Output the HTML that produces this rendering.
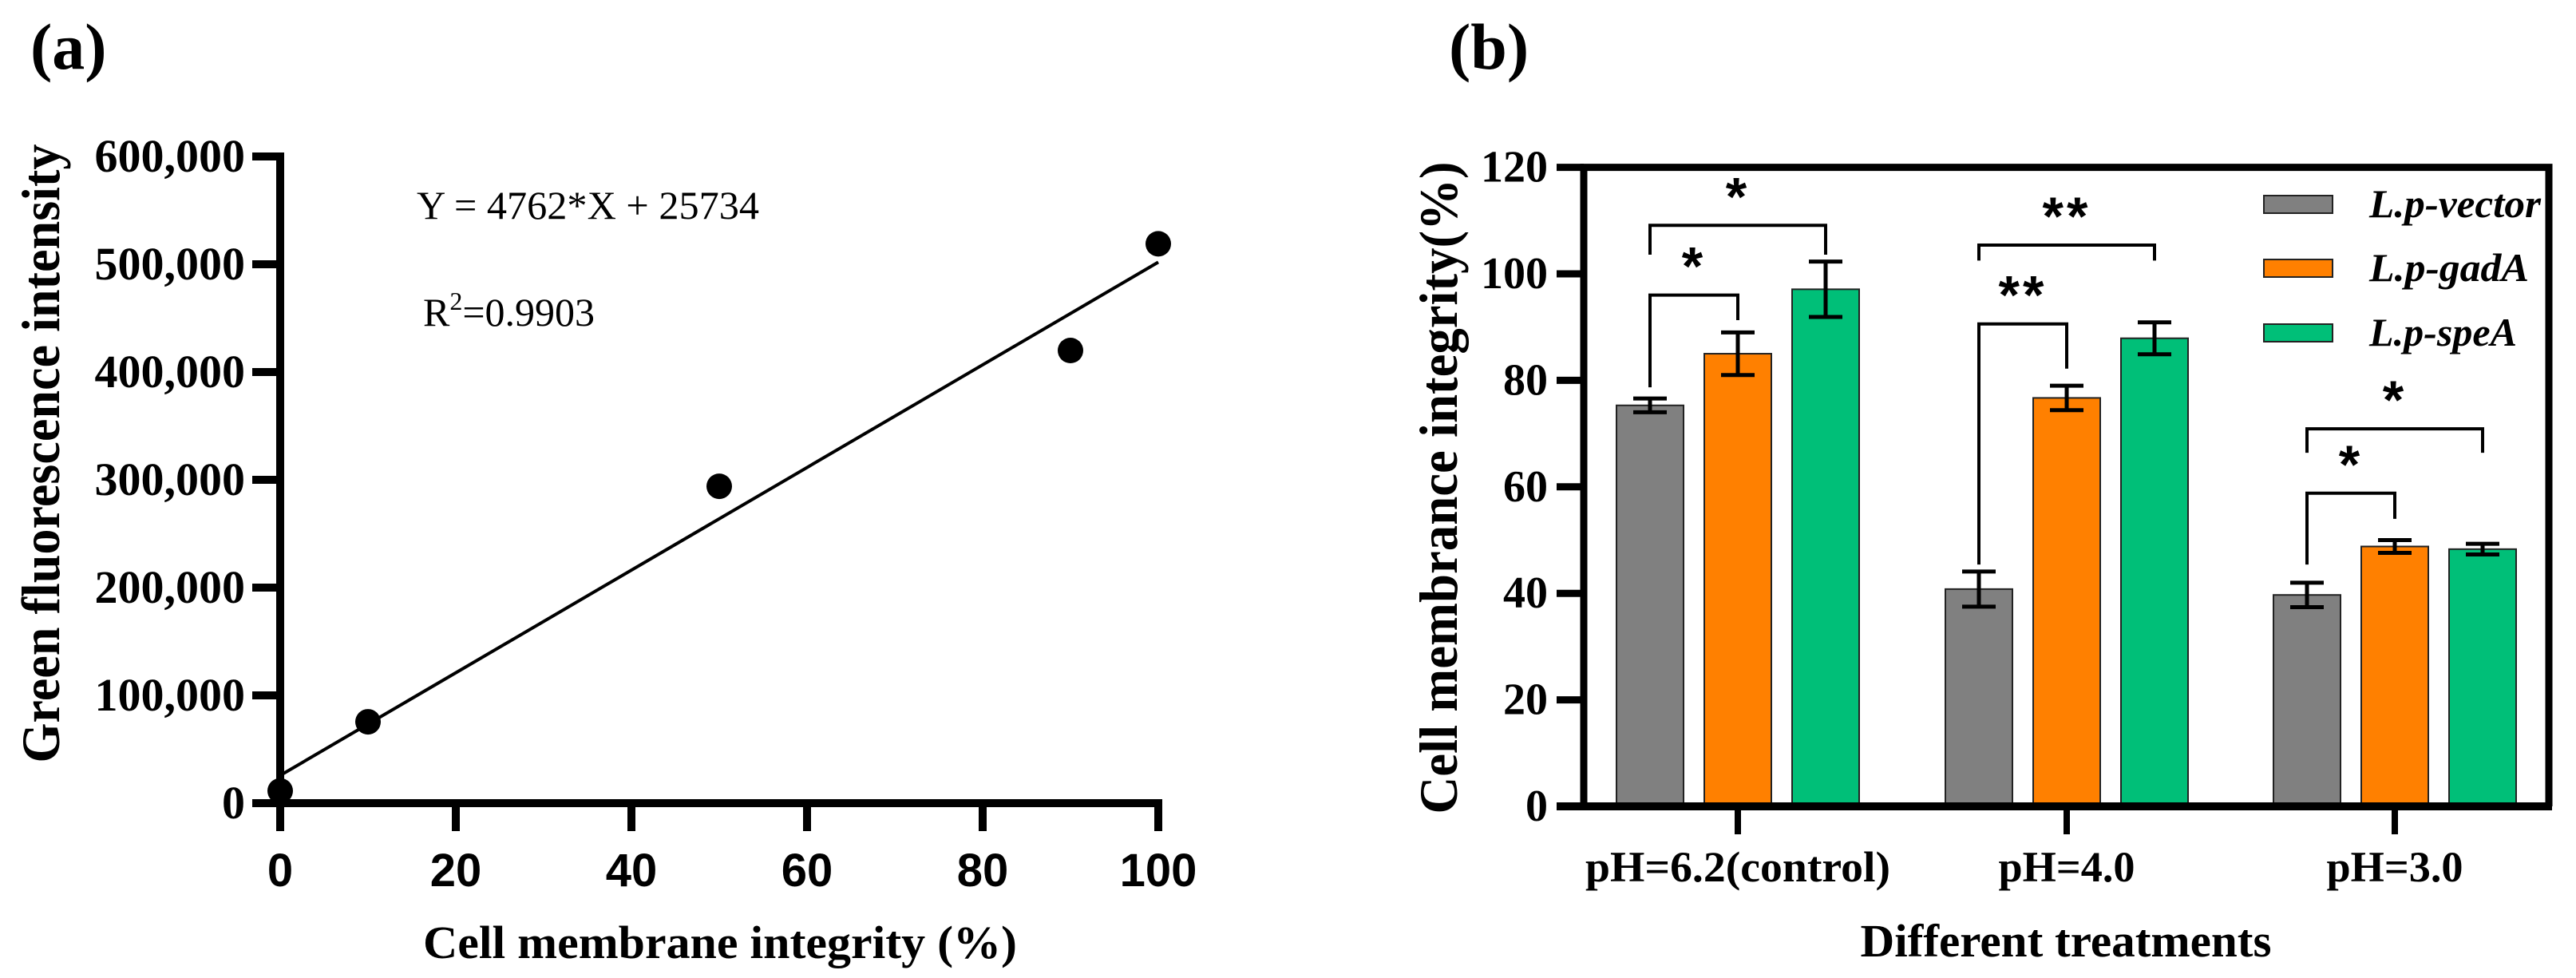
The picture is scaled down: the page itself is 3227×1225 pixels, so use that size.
<!DOCTYPE html>
<html><head><meta charset="utf-8">
<style>
html,body{margin:0;padding:0;background:#fff;}
svg{display:block;}
.serif{font-family:"Liberation Serif",serif;}
.sans{font-family:"Liberation Sans",sans-serif;}
</style></head>
<body>
<svg id="fig" width="3227" height="1225" viewBox="0 0 3227 1225" xmlns="http://www.w3.org/2000/svg">
  <rect x="0" y="0" width="3227" height="1225" fill="#fff"/>
  <text class="serif" x="38" y="86" font-size="82" font-weight="bold">(a)</text>
  <text class="serif" x="1815" y="86" font-size="82" font-weight="bold">(b)</text>
  <g id="chartA"></g>
  <g id="chartB"></g>
</svg>
<script>
// ---------- Chart A data ----------
const aX = [0, 10, 50, 90, 100];
const aY = [11400, 75500, 294000, 420000, 519000];
const aXTicks = [0, 20, 40, 60, 80, 100];
const aYTicks = [0, 100000, 200000, 300000, 400000, 500000, 600000];
const aYTickLabels = ["0", "100,000", "200,000", "300,000", "400,000", "500,000", "600,000"];
const fitSlope = [4762];
const fitIntercept = [25734];

// ---------- Chart B data ----------
const bCategories = ["pH=6.2(control)", "pH=4.0", "pH=3.0"];
const bSeriesNames = ["L.p-vector", "L.p-gadA", "L.p-speA"];
const bVector = [75.3, 40.8, 39.7];
const bGadA = [85.0, 76.7, 48.8];
const bSpeA = [97.1, 87.9, 48.3];
const bVectorErr = [1.3, 3.3, 2.3];
const bGadAErr = [4.0, 2.3, 1.2];
const bSpeAErr = [5.2, 3.0, 1.0];
const bYTicks = [0, 20, 40, 60, 80, 100, 120];
// significance brackets (values in y-axis units)
const bSigCat = [0, 0, 1, 1, 2, 2];
const bSigTo = [1, 2, 1, 2, 1, 2];
const bSigLabel = ["*", "*", "**", "**", "*", "*"];
const bSigTop = [96.0, 109.1, 90.6, 105.4, 58.8, 70.9];
const bSigLegA = [78.7, 103.6, 45.4, 102.5, 45.4, 66.4];
const bSigLegB = [91.3, 103.6, 82.2, 102.5, 54.0, 66.4];

const NS = "http://www.w3.org/2000/svg";
function mk(parent, tag, attrs, text) {
  const e = document.createElementNS(NS, tag);
  for (const k in attrs) e.setAttribute(k, attrs[k]);
  if (text !== undefined) e.textContent = text;
  parent.appendChild(e);
  return e;
}

// ================= CHART A =================
(function () {
  const g = document.getElementById('chartA');
  const x0 = 351, xPer = 11.0;
  const y0 = 1006, yPer = 0.00135;
  const xs = v => x0 + v * xPer;
  const ys = v => y0 - v * yPer;
  let e;
  e = mk(g, 'line', {x1: x0, y1: ys(600000) - 5, x2: x0, y2: 1041, stroke: '#000', 'stroke-width': 10});
  
  
  e = mk(g, 'line', {x1: 316, y1: y0, x2: xs(100) + 5, y2: y0, stroke: '#000', 'stroke-width': 10});
  
  
  aYTicks.forEach((v, i) => {
    const t = mk(g, 'line', {x1: 316, y1: ys(v), x2: x0, y2: ys(v), stroke: '#000', 'stroke-width': 10});
    
    
    const l = mk(g, 'text', {x: 307, y: ys(v) + 19, 'text-anchor': 'end', 'font-size': 58, 'font-weight': 'bold', class: 'serif'}, aYTickLabels[i]);
    
    
  });
  aXTicks.forEach(v => {
    const t = mk(g, 'line', {x1: xs(v), y1: y0, x2: xs(v), y2: 1041, stroke: '#000', 'stroke-width': 10});
    
    
    const l = mk(g, 'text', {x: xs(v), y: 1110, 'text-anchor': 'middle', 'font-size': 58, 'font-weight': 'bold', class: 'sans'}, String(v));
    
    
  });
  e = mk(g, 'text', {x: 0, y: 0, transform: 'translate(74,568) rotate(-90)', 'text-anchor': 'middle', 'font-size': 68, 'font-weight': 'bold', class: 'serif', textLength: 775, lengthAdjust: 'spacingAndGlyphs'}, 'Green fluorescence intensity');
  
  
  e = mk(g, 'text', {x: 902, y: 1200, 'text-anchor': 'middle', 'font-size': 58, 'font-weight': 'bold', class: 'serif', textLength: 744, lengthAdjust: 'spacingAndGlyphs'}, 'Cell membrane integrity (%)');
  
  
  e = mk(g, 'line', {x1: xs(0), y1: ys(fitIntercept[0]), x2: xs(100), y2: ys(fitSlope[0] * 100 + fitIntercept[0]), stroke: '#000', 'stroke-width': 4});
  
  
  aX.forEach((v, i) => {
    const c = mk(g, 'circle', {cx: xs(v), cy: ys(aY[i]), r: 16, fill: '#000'});
    
    
  });
  e = mk(g, 'text', {x: 522, y: 274, 'font-size': 50, class: 'serif', textLength: 429, lengthAdjust: 'spacingAndGlyphs'}, 'Y = 4762*X + 25734');
  
  
  e = mk(g, 'text', {x: 530, y: 408, 'font-size': 50, class: 'serif'});
  
  
  mk(e, 'tspan', {}, 'R');
  mk(e, 'tspan', {dy: -20, 'font-size': 32}, '2');
  mk(e, 'tspan', {dy: 20}, '=0.9903');
})();

// ================= CHART B =================
(function () {
  const g = document.getElementById('chartB');
  const y0 = 1010, yPer = 6.67;
  const ys = v => y0 - v * yPer;
  const xL = 1984, xR = 3193, yTop = ys(120);
  const groupCenters = [2177, 2589, 3000];
  const step = 110, bw = 84;
  const colors = ['#808080', '#FF8000', '#00BF78'];
  const vals = [bVector, bGadA, bSpeA];
  const errs = [bVectorErr, bGadAErr, bSpeAErr];
  const barX = (c, s) => groupCenters[c] + (s - 1) * step;
  let e;
  vals.forEach((arr, s) => {
    arr.forEach((v, c) => {
      const r = mk(g, 'rect', {x: barX(c, s) - bw / 2, y: ys(v), width: bw, height: y0 - ys(v), fill: colors[s], stroke: '#222', 'stroke-width': 2});
      
      
    });
  });
  vals.forEach((arr, s) => {
    arr.forEach((v, c) => {
      const cx = barX(c, s), hi = ys(v + errs[s][c]), lo = ys(v - errs[s][c]);
      const eg = mk(g, 'g', {stroke: '#000', 'stroke-width': 5});
      
      
      mk(eg, 'line', {x1: cx, y1: hi, x2: cx, y2: lo});
      mk(eg, 'line', {x1: cx - 21, y1: hi, x2: cx + 21, y2: hi});
      mk(eg, 'line', {x1: cx - 21, y1: lo, x2: cx + 21, y2: lo});
    });
  });
  e = mk(g, 'path', {d: `M${xL},${y0} L${xL},${yTop} L${xR},${yTop} L${xR},${y0}`, fill: 'none', stroke: '#000', 'stroke-width': 9});
  
  
  e = mk(g, 'line', {x1: 1950, y1: y0, x2: xR + 4, y2: y0, stroke: '#000', 'stroke-width': 10});
  
  
  bYTicks.forEach(v => {
    const t = mk(g, 'line', {x1: 1950, y1: ys(v), x2: xL, y2: ys(v), stroke: '#000', 'stroke-width': 9});
    
    
    const l = mk(g, 'text', {x: 1939, y: ys(v) + 18, 'text-anchor': 'end', 'font-size': 56, 'font-weight': 'bold', class: 'serif'}, String(v));
    
    
  });
  const catLen = [382, 171, 171];
  bCategories.forEach((cname, c) => {
    const t = mk(g, 'line', {x1: groupCenters[c], y1: y0, x2: groupCenters[c], y2: 1045, stroke: '#000', 'stroke-width': 8});
    
    
    const l = mk(g, 'text', {x: groupCenters[c], y: 1104, 'text-anchor': 'middle', 'font-size': 54, 'font-weight': 'bold', class: 'serif', textLength: catLen[c], lengthAdjust: 'spacingAndGlyphs'}, cname);
    
    
  });
  e = mk(g, 'text', {x: 0, y: 0, transform: 'translate(1825,611) rotate(-90)', 'text-anchor': 'middle', 'font-size': 68, 'font-weight': 'bold', class: 'serif', textLength: 817, lengthAdjust: 'spacingAndGlyphs'}, 'Cell membrance integrity(%)');
  
  
  e = mk(g, 'text', {x: 2588, y: 1198, 'text-anchor': 'middle', 'font-size': 58, 'font-weight': 'bold', class: 'serif', textLength: 515, lengthAdjust: 'spacingAndGlyphs'}, 'Different treatments');
  
  
  bSigCat.forEach((c, i) => {
    const to = bSigTo[i];
    const xa = barX(c, 0), xb = barX(c, to);
    const yb = ys(bSigTop[i]), legA = ys(bSigLegA[i]), legB = ys(bSigLegB[i]);
    const bg = mk(g, 'path', {d: `M${xa},${legA} L${xa},${yb} L${xb},${yb} L${xb},${legB}`, fill: 'none', stroke: '#000', 'stroke-width': 4});
    
    
    const st = mk(g, 'text', {x: (xa + xb) / 2, y: yb - 49 + 36, 'text-anchor': 'middle', 'font-size': 68, 'font-weight': 'bold', class: 'sans', 'letter-spacing': 4}, bSigLabel[i]);
    
    
  });
  const legY = [256, 336, 417];
  const legLen = [215, 200, 185];
  bSeriesNames.forEach((n, s) => {
    const lg = mk(g, 'g', {});
    
    
    mk(lg, 'rect', {x: 2836, y: legY[s] - 11, width: 86, height: 22, fill: colors[s], stroke: '#222', 'stroke-width': 2});
    mk(lg, 'text', {x: 2968, y: legY[s] + 16, 'font-size': 50, 'font-weight': 'bold', 'font-style': 'italic', class: 'serif', textLength: legLen[s], lengthAdjust: 'spacingAndGlyphs'}, n);
  });
})();
</script>
</body></html>
